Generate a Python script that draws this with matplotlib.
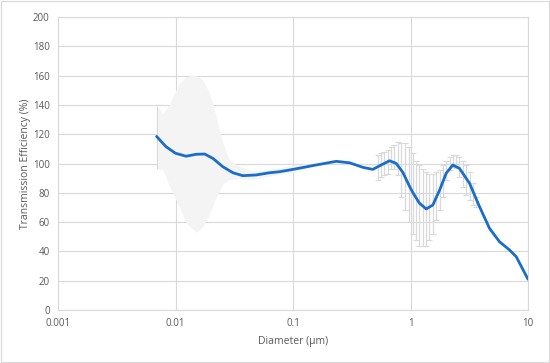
import numpy as np
import matplotlib
matplotlib.use('Agg')
import matplotlib.pyplot as plt
from matplotlib.patches import Rectangle

plt.rcParams['font.family'] = ['Open Sans', 'DejaVu Sans']

# Fitted transmission curve
curve_d = [0.0069, 0.0083, 0.0100, 0.0123, 0.0150, 0.0177, 0.0208, 0.0253, 0.0308,
           0.0374, 0.0486, 0.063, 0.0767, 0.100, 0.157, 0.233, 0.303, 0.393, 0.478,
           0.562, 0.663, 0.755, 0.86, 0.98, 1.05, 1.19, 1.36, 1.55, 1.77, 2.01,
           2.29, 2.61, 3.18, 3.87, 4.7, 5.72, 6.96, 7.94, 9.63, 10.0]
curve_eff = [118.5, 111.5, 107, 105, 106.3, 106.5, 103.5, 97.8, 93.7,
             91.7, 92.2, 93.7, 94.4, 96, 99, 101.5, 100.5, 97.4, 96,
             99, 101.9, 100.1, 94, 84.5, 80, 73, 69, 71.7, 81.9, 93.3,
             99, 96.7, 86.5, 70.5, 55.8, 46.6, 41, 36.4, 23.5, 21]

# Dense error band at small diameters
band_d = [0.007, 0.0078, 0.0089, 0.0095, 0.0108, 0.0123, 0.0132, 0.015, 0.0171,
          0.0195, 0.0222, 0.0253, 0.0288, 0.035, 0.045, 0.06, 0.08, 0.1, 0.13]
band_hi = [139, 134, 141, 146, 155, 159, 160, 160, 157,
           148, 132, 114, 102, 98, 95, 96, 97.5, 98.5, 100]
band_lo = [96, 96, 84, 80, 70, 60, 57, 53, 57,
           66, 77, 86, 89, 90, 89, 91, 93, 94, 96]

# Discrete error bars around 0.5 - 4 um
bar_d = [0.527, 0.56, 0.60, 0.64, 0.685, 0.73, 0.78, 0.83, 0.89, 0.98,
         1.05, 1.12, 1.19, 1.27, 1.36, 1.45, 1.55, 1.65, 1.77, 1.88,
         2.01, 2.15, 2.29, 2.45, 2.61, 2.79, 2.98, 3.18, 3.39, 3.62]
bar_hi = [106, 107, 108, 109, 111.5, 112.6, 115, 114, 114, 111.5,
          107, 102, 99, 96, 94.5, 93, 93, 94.5, 95.6, 99,
          102, 104.7, 105.8, 105.8, 104.7, 102, 99, 94.5, 86.4, 77.3]
bar_lo = [89, 91, 92, 93, 96, 96, 92, 77, 68, 60,
          52, 48, 44, 44, 44, 48, 52, 61.5, 68, 77,
          89, 95.6, 97.8, 96.7, 91, 84, 78.5, 75, 71.7, 70.6]

grid_c = '#d9d9d9'
text_c = '#595959'

fig = plt.figure(figsize=(5.5, 3.63), dpi=100)
ax = fig.add_axes([0.1055, 0.146, 0.8545, 0.807])

ax.fill_between(band_d, band_lo, band_hi, color='#f4f4f4', lw=0, zorder=1)
ax.vlines(band_d[0], band_lo[0], band_hi[0], color=grid_c, lw=0.8, zorder=1)

b_lo = np.array(bar_lo)
b_hi = np.array(bar_hi)
mid = (b_lo + b_hi) / 2
ax.errorbar(bar_d, mid, yerr=(b_hi - b_lo) / 2, fmt='none', ecolor=grid_c,
            elinewidth=0.9, capsize=2, capthick=0.8, zorder=2)

ax.plot(curve_d, curve_eff, color='#1a6dc9', lw=2, zorder=3, solid_capstyle='round')

ax.set_xscale('log')
ax.set_xlim(0.001, 10)
ax.set_ylim(0, 200)
ax.set_yticks(range(0, 201, 20))
ax.set_xticks([0.001, 0.01, 0.1, 1, 10])
ax.set_xticklabels(['0.001', '0.01', '0.1', '1', '10'])
ax.minorticks_off()
ax.grid(True, color=grid_c, lw=0.8, zorder=0)
ax.set_axisbelow(True)
for s in ax.spines.values():
    s.set_color(grid_c)
    s.set_linewidth(0.8)
ax.tick_params(length=0, labelsize=7, colors=text_c, pad=6)
ax.set_xlabel('Diameter (μm)', fontsize=7.5, color=text_c, labelpad=5)
ax.set_ylabel('Transmission Efficiency (%)', fontsize=7.5, color=text_c, labelpad=1)

fig.patches.append(Rectangle((0.002, 0.003), 0.996, 0.994, transform=fig.transFigure,
                             fill=False, edgecolor=grid_c, lw=0.8))

fig.savefig('out.png', dpi=100)
